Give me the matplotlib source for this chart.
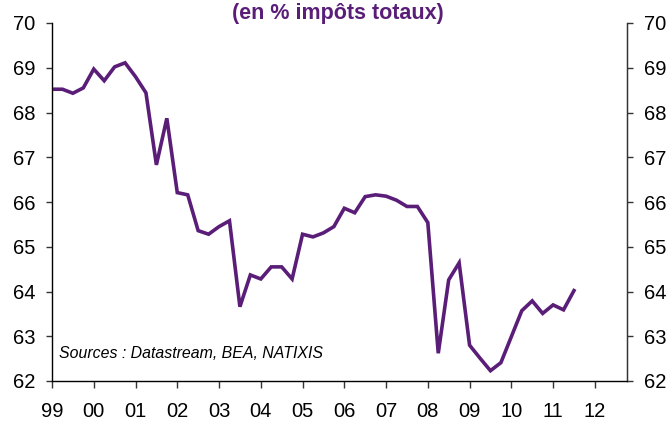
import numpy as np
import matplotlib
matplotlib.use("Agg")
import matplotlib.pyplot as plt

# ================== DATA ==================
# quarterly share, 1999 Q1 -> 2011 Q3
start_year = 1999
share = [
    68.52, 68.52, 68.43, 68.55,   # 1999
    68.97, 68.71, 69.02, 69.11,   # 2000
    68.80, 68.44, 66.83, 67.87,   # 2001
    66.21, 66.16, 65.36, 65.28,   # 2002
    65.45, 65.58, 63.66, 64.37,   # 2003
    64.28, 64.55, 64.55, 64.28,   # 2004
    65.28, 65.22, 65.31, 65.45,   # 2005
    65.86, 65.76, 66.12, 66.16,   # 2006
    66.13, 66.04, 65.90, 65.90,   # 2007
    65.54, 62.62, 64.26, 64.64,   # 2008
    62.80, 62.51, 62.23, 62.41,   # 2009
    62.99, 63.57, 63.79, 63.51,   # 2010
    63.70, 63.59, 64.02,          # 2011
]
year_ticks = list(range(1999, 2013))
year_labels = ["99", "00", "01", "02", "03", "04", "05", "06",
               "07", "08", "09", "10", "11", "12"]
y_ticks = [62, 63, 64, 65, 66, 67, 68, 69, 70]

title = "(en % impôts totaux)"
source = "Sources : Datastream, BEA, NATIXIS"

purple = "#5a1e78"
axis_col = "#333333"

plt.rcParams["font.family"] = ["Liberation Sans", "DejaVu Sans"]

t = start_year + np.arange(len(share)) * 0.25

# ================== FIGURE ==================
fig = plt.figure(figsize=(6.70, 4.21), dpi=100)
ax = fig.add_axes([52 / 670, 1 - 381 / 421, 575 / 670, 358 / 421])

ax.plot(t, share, color=purple, lw=2.6, solid_joinstyle="miter", zorder=3)

ax.set_xlim(1999, 2012.77)
ax.set_ylim(62, 70)

ax.set_xticks(year_ticks)
ax.set_xticklabels(year_labels)
ax.set_yticks(y_ticks)

ax.spines["top"].set_visible(False)
for side in ["left", "right", "bottom"]:
    ax.spines[side].set_color(axis_col)
    ax.spines[side].set_linewidth(1.0)

ax.tick_params(axis="x", direction="out", length=5, width=1, color=axis_col,
               labelsize=14.5, pad=10)
ax.tick_params(axis="y", direction="out", length=4, width=1, color=axis_col,
               labelsize=14.5, pad=8)

# right axis, same scale
ax2 = ax.twinx()
ax2.set_ylim(ax.get_ylim())
ax2.set_yticks(y_ticks)
ax2.spines["top"].set_visible(False)
ax2.spines["right"].set_color(axis_col)
ax2.tick_params(axis="y", direction="out", length=4, width=1, color=axis_col,
                labelsize=14.5, pad=8)

ax.text(0.013, 0.055, source, transform=ax.transAxes, fontsize=11.4,
        style="italic", ha="left", va="bottom", color="black")

fig.text(338 / 670, 1 - 14 / 421, title, fontsize=15.5, fontweight="bold",
         color=purple, ha="center", va="center")

fig.savefig("out.png", dpi=100)
